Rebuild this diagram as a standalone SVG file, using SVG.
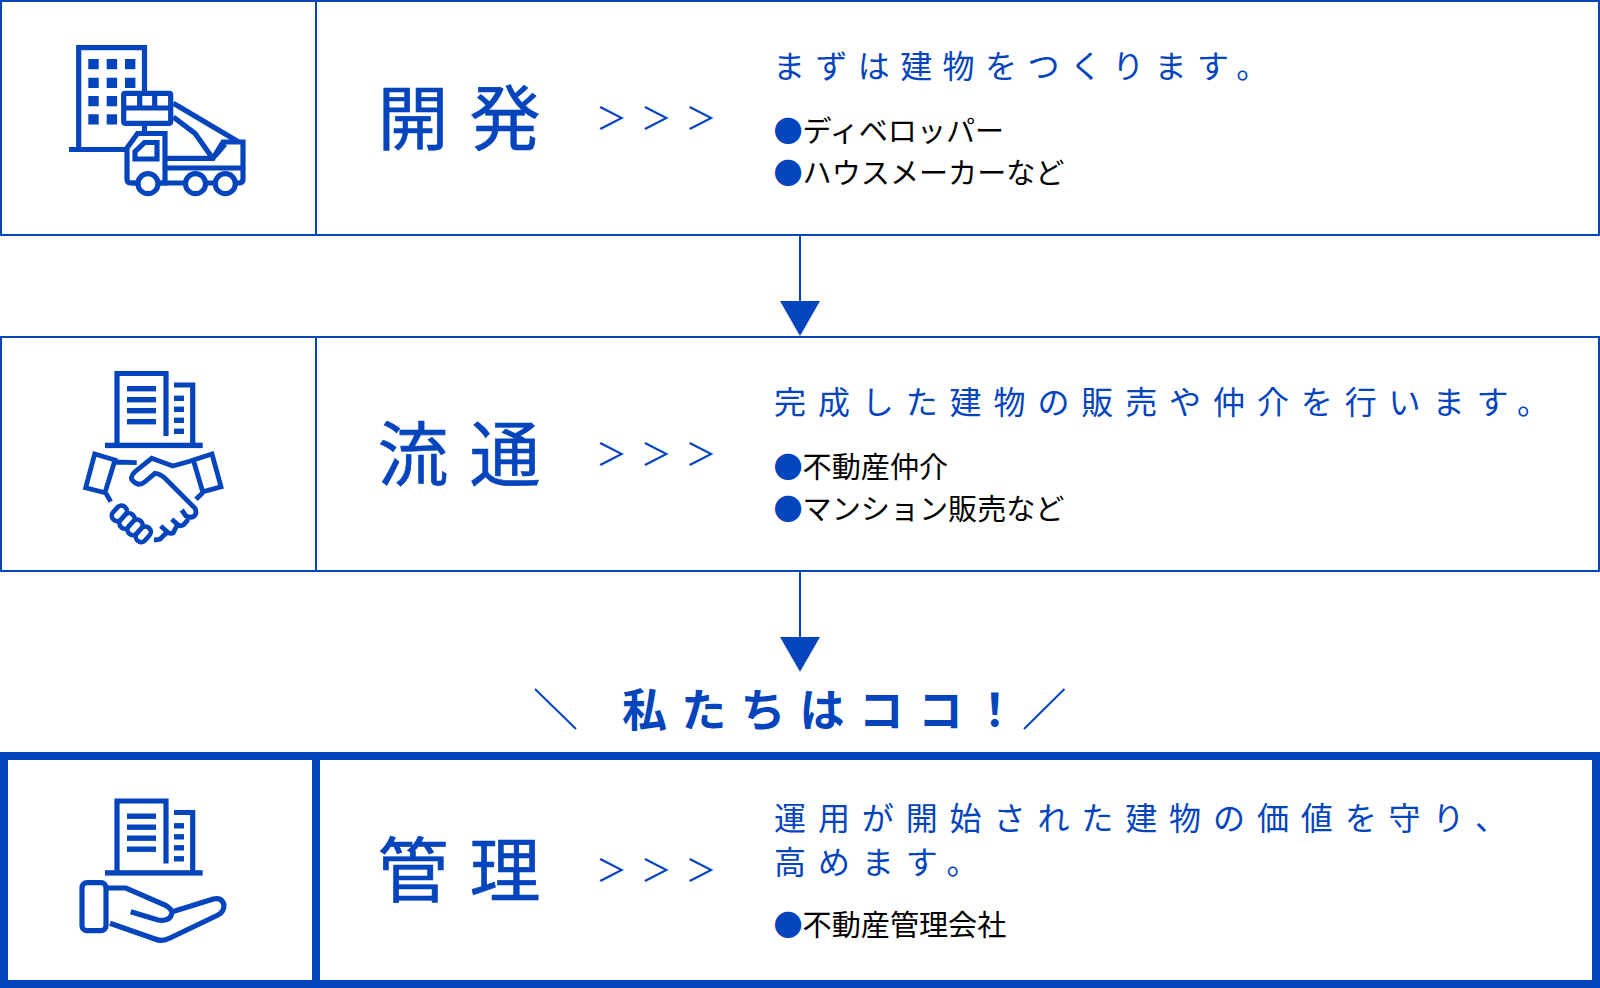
<svg xmlns="http://www.w3.org/2000/svg" width="1600" height="988" viewBox="0 0 1600 988">
<style>
text{font-family:"Noto Sans CJK JP","Noto Sans",sans-serif}
.box{fill:#fff;stroke:#0444bc;stroke-width:2}
.box3{fill:#fff;stroke:#0444bc;stroke-width:8}
.title{font-size:71px;letter-spacing:21px;fill:#0444bc;font-weight:400;stroke:#0444bc;stroke-width:.6}
.gt{font-size:31px;letter-spacing:13.8px;fill:#0444bc}
.sub{font-size:32px;letter-spacing:11.9px;fill:#0444bc}
.li{font-size:29.1px;fill:#000}
.li tspan{fill:#0444bc}
.ic{fill:none;stroke:#0444bc;stroke-width:5.2}
.wf{fill:#fff;stroke:#0444bc;stroke-width:5.2}
.hf{fill:#fff;stroke:#0444bc;stroke-width:4.6}
.h2{fill:none;stroke:#0444bc;stroke-width:4.8}
.s{fill:#0444bc}
.head{fill:#0444bc}
.c{stroke:#0444bc;stroke-width:2;fill:none}
.here{font-size:45px;font-weight:700;letter-spacing:14.2px;fill:#0444bc}
</style>
<defs>
<g id="bldg">
<path class="ic" d="M117,445V373.5H166V436M174,385H192.7V445"/>
<rect class="s" x="105" y="442.7" width="97.7" height="5.4"/>
<rect class="s" x="127" y="386" width="29" height="5.4"/><rect class="s" x="127" y="397" width="29" height="5.4"/><rect class="s" x="127" y="408" width="29" height="5.4"/><rect class="s" x="127" y="419" width="29" height="5.4"/>
<rect class="s" x="174" y="395.6" width="10" height="5.4"/><rect class="s" x="174" y="406.6" width="10" height="5.4"/><rect class="s" x="174" y="417.6" width="10" height="5.4"/><rect class="s" x="174" y="428.6" width="10" height="5.4"/>
</g>
</defs>
<g id="connectors">
<path class="c" d="M800,235V302"/><path class="head" d="M780,301H820L800,336Z"/>
<path class="c" d="M800,571V638"/><path class="head" d="M780,637H820L800,671.700Z"/>
<path class="c" d="M535,689L576,729M1064.500,689L1024,729"/>
</g>
<g id="node-kaihatsu">
<rect class="box" x="1" y="1" width="1598" height="234"/>
<path class="c" d="M316,1V235"/>
<g id="icon-crane">
<path class="ic" d="M69,149.500H128M78.700,149.500V47.700H144.500V91"/>
<path class="s" d="M88.300,59h10.400v10.300h-10.400zM106.700,59h10.400v10.300h-10.400zM125,59h10.400v10.300h-10.400zM88.300,77.700h10.400v10.300h-10.400zM106.700,77.700h10.400v10.300h-10.400zM125,77.700h10.400v10.300h-10.400zM88.300,96h10.400v10.300h-10.400zM106.700,96h10.400v10.300h-10.400zM88.300,114.300h10.400v10.300h-10.400zM106.700,114.300h10.400v10.300h-10.400z"/>
<rect class="wf" x="123.700" y="93.300" width="47" height="30" rx="1.500"/>
<path class="ic" d="M123.700,108H170.700M139.700,93.300V108M154.700,93.300V108M144.500,126V134M173.300,103.300L238.300,141.700M173.300,117L195,133.300L211,156M225,144L215,156"/>
<path class="wf" d="M127,148L137.500,133.500H165V183H131Q127,183 127,179Z"/>
<path class="ic" d="M165,158.300H213L223,142H243V179Q243,183 239,183H131M165,168H243M135,159V151.500L144.500,142.500H157V159Z"/>
<circle class="wf" cx="148" cy="183.700" r="10"/><circle class="wf" cx="195.500" cy="183.700" r="10"/><circle class="wf" cx="225.300" cy="183.700" r="10"/>
</g>
<text class="title" x="377.500" y="144">開発</text>
<text class="gt" x="596" y="129">＞＞＞</text>
<text class="sub" x="773" y="78" style="letter-spacing:10.4px">まずは建物をつくります。</text>
<text class="li" x="773.500" y="142"><tspan>●</tspan>ディベロッパー</text>
<text class="li" x="773.500" y="184"><tspan>●</tspan>ハウスメーカーなど</text>
</g>
<g id="node-ryutsu">
<rect class="box" x="1" y="337" width="1598" height="234"/>
<path class="c" d="M316,337V571"/>
<g id="icon-handshake">
<use href="#bldg"/>
<path class="h2" d="M94.700,454L115,460L105,492.700L85.700,487.700ZM212,454L193.300,460L202.700,491.700L221,486.700ZM115,462L136.700,462.700M106,493.300L110.700,501.700M202.700,492.700L196,499.300"/>
<path class="h2" d="M191.700,460.700L172.700,466L151.700,458.300L135,471.700Q129,478 133,481Q139,487 145,481.700L155,473.300Q160,473.500 165,478.300L195,508.300Q197,513 195,515Q192,519 186,516L181.700,510M188.300,519.300L183.300,525Q180.500,526.500 178.300,525L171.700,519.300M176.700,526L173.300,532.700Q170.500,534 168.300,532.700L160.700,526M166,533.300L160,539.300L154,540"/>
<g>
<rect class="hf" x="-8.500" y="-5.300" width="17" height="10.600" rx="5" transform="translate(119.300,513.300) rotate(-48)"/>
<rect class="hf" x="-8.500" y="-5.300" width="17" height="10.600" rx="5" transform="translate(127,521) rotate(-48)"/>
<rect class="hf" x="-8.500" y="-5.300" width="17" height="10.600" rx="5" transform="translate(135,527.300) rotate(-48)"/>
<rect class="hf" x="-8.500" y="-5.300" width="17" height="10.600" rx="5" transform="translate(143.300,534.300) rotate(-48)"/>
</g>
</g>
<text class="title" x="377.500" y="480">流通</text>
<text class="gt" x="596" y="465">＞＞＞</text>
<text class="sub" x="774" y="414">完成した建物の販売や仲介を行います。</text>
<text class="li" x="773.500" y="478"><tspan>●</tspan>不動産仲介</text>
<text class="li" x="773.500" y="520"><tspan>●</tspan>マンション販売など</text>
</g>
<g id="callout">
<text class="here" x="622" y="727">私たちはココ<tspan dx="-5">！</tspan></text>
</g>
<g id="node-kanri">
<rect class="box3" x="4" y="756" width="1592" height="228"/>
<path d="M316,756V984" stroke="#0444bc" stroke-width="8" fill="none"/>
<g id="icon-hand">
<use href="#bldg" transform="translate(0,427.500)"/>
<rect class="ic" x="82" y="882.700" width="24" height="48" rx="5"/>
<path class="ic" d="M108,888H126L165,905Q172,909 172,913Q170,922 158,920L130.700,911.700M172.300,911.700L213.300,899Q222,897 224,905Q224,912 218,915L170,938Q162,942 155,939L110,923.300"/>
</g>
<text class="title" x="377.500" y="896">管理</text>
<text class="gt" x="596" y="881">＞＞＞</text>
<text class="sub" x="774" y="830">運用が開始された建物の価値を守り、</text>
<text class="sub" x="774" y="874">高めます。</text>
<text class="li" x="773.500" y="936"><tspan>●</tspan>不動産管理会社</text>
</g>
</svg>
